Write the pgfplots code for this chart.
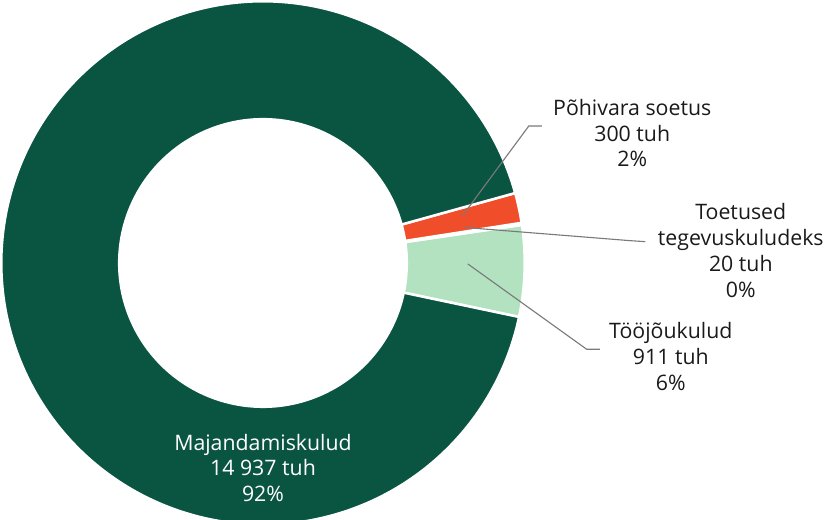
\documentclass[border=0pt]{standalone}
\usepackage{pgfplots}
\usepackage{pgfplotstable}
\pgfplotsset{compat=1.18}
\usepackage{fontspec}
\setmainfont{Open Sans}
\definecolor{dkgreen}{HTML}{0A5442}
\definecolor{orng}{HTML}{F04E2A}
\definecolor{ltgreen}{HTML}{B3E2C0}
\definecolor{txt}{HTML}{1A1A1A}
\definecolor{lead}{HTML}{7A7A7A}

\pgfplotstableread{
label value
Toojoukulud 911
Toetused 20
Pohivara 300
Majandamiskulud 14937
}\data
\pgfplotstablegetelem{0}{value}\of\data \let\vA\pgfplotsretval
\pgfplotstablegetelem{1}{value}\of\data \let\vB\pgfplotsretval
\pgfplotstablegetelem{2}{value}\of\data \let\vC\pgfplotsretval
\pgfplotstablegetelem{3}{value}\of\data \let\vD\pgfplotsretval
\pgfmathsetmacro{\tot}{\vA+\vB+\vC+\vD}
\pgfmathsetmacro{\aO}{-11.9}
\pgfmathsetmacro{\aA}{\aO+\vA/\tot*360}
\pgfmathsetmacro{\aB}{\aA+\vB/\tot*360}
\pgfmathsetmacro{\aC}{\aB+\vC/\tot*360}
\pgfmathsetmacro{\aD}{\aC+\vD/\tot*360}
\def\cx{268}
\def\cy{253}
\def\R{258}
\def\r{143}

\begin{document}
\begin{tikzpicture}
\begin{axis}[
  scale only axis, width=827pt, height=525pt,
  xmin=0, xmax=827, ymin=0, ymax=525,
  hide axis, clip=true,
]
\addplot[fill=ltgreen, draw=white, line width=2.5pt, domain=\aO:\aA, samples=40]
  ({\cx+\R*cos(x)},{\cy+\R*sin(x)}) -- (axis cs:\cx,\cy) -- cycle;
\addplot[fill=ltgreen, draw=white, line width=2.5pt, domain=\aA:\aB, samples=5]
  ({\cx+\R*cos(x)},{\cy+\R*sin(x)}) -- (axis cs:\cx,\cy) -- cycle;
\addplot[fill=orng, draw=white, line width=2.5pt, domain=\aB:\aC, samples=20]
  ({\cx+\R*cos(x)},{\cy+\R*sin(x)}) -- (axis cs:\cx,\cy) -- cycle;
\addplot[fill=dkgreen, draw=white, line width=2.5pt, domain=\aC:\aD, samples=300]
  ({\cx+\R*cos(x)},{\cy+\R*sin(x)}) -- (axis cs:\cx,\cy) -- cycle;
\addplot[fill=white, draw=none, domain=0:360, samples=200]
  ({\cx+\r*cos(x)},{\cy+\r*sin(x)}) -- cycle;

\addplot[lead, line width=1.1pt] coordinates {(465,300) (530,388) (543,388)};
\addplot[lead, line width=1.1pt] coordinates {(467,288) (630,275) (645,274)};
\addplot[lead, line width=1.1pt] coordinates {(470,252) (587,168) (600,168)};

\node[align=center, text=txt, font=\fontsize{21}{25.5}\selectfont] at (axis cs:632,381) {Põhivara soetus\\300 tuh\\2\%};
\node[align=center, text=txt, font=\fontsize{21}{25.5}\selectfont] at (axis cs:739,265.5) {Toetused\\tegevuskuludeks\\20 tuh\\0\%};
\node[align=center, text=txt, font=\fontsize{21}{25.5}\selectfont] at (axis cs:670,161) {Tööjõukulud\\911 tuh\\6\%};
\node[align=center, text=white, font=\fontsize{21}{25.5}\selectfont] at (axis cs:268,51) {Majandamiskulud\\14 937 tuh\\92\%};
\end{axis}
\end{tikzpicture}
\end{document}
